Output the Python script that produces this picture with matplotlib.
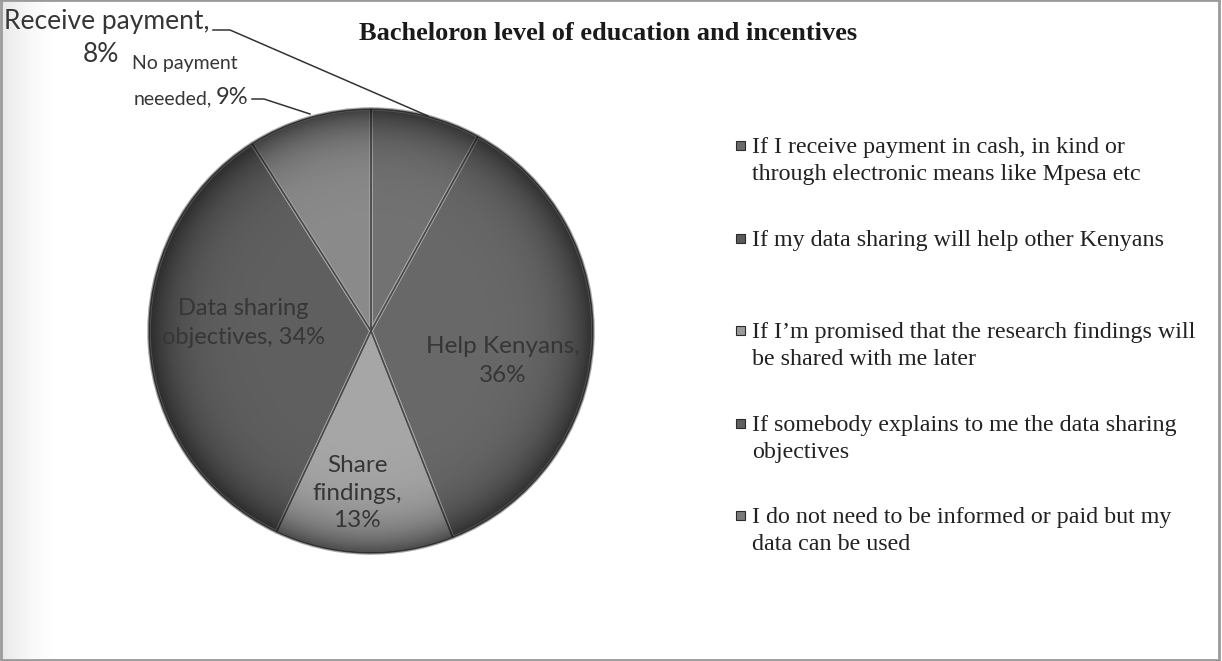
import numpy as np
import matplotlib
matplotlib.use("Agg")
import matplotlib.pyplot as plt
from matplotlib.patches import Rectangle
from matplotlib.path import Path

# ---- data ------------------------------------------------------------------
short_names = ["Receive payment", "Help Kenyans", "Share findings",
               "Data sharing objectives", "No payment neeeded"]
shares = [8, 36, 13, 34, 9]
legend_labels = [
    "If I receive payment in cash, in kind or\nthrough electronic means like Mpesa etc",
    "If my data sharing will help other Kenyans",
    "If I\u2019m promised that the research findings will\nbe shared with me later",
    "If somebody explains to me the data sharing\nobjectives",
    "I do not need to be informed or paid but my\ndata can be used",
]
slice_colors = ["#727272", "#686868", "#a6a6a6", "#5f5f5f", "#8a8a8a"]
marker_colors = ["#6a6a6a", "#5a5a5a", "#9a9a9a", "#606060", "#7a7a7a"]

W, H = 1222, 661
SANS = ["Lato", "DejaVu Sans"]
SERIF = ["Liberation Serif", "DejaVu Serif"]
INK = "#363636"

fig = plt.figure(figsize=(W / 100, H / 100), dpi=100)
ax = fig.add_axes([0, 0, 1, 1])

def py(y):  # pixel row (top-down) -> data y
    return H - y

# ---- pie -------------------------------------------------------------------
cx, cy, r = 371, py(331), 222
wedges, _ = ax.pie(shares, colors=slice_colors, startangle=90, counterclock=False,
                   center=(cx, cy), radius=r, frame=True,
                   wedgeprops=dict(edgecolor="#a9a9a9", linewidth=2.6))
ax.pie(shares, colors=["none"] * len(shares), startangle=90, counterclock=False,
       center=(cx, cy), radius=r, frame=True,
       wedgeprops=dict(edgecolor="#4a4a4a", linewidth=1.0, fill=False))
ax.set_xlim(0, W)
ax.set_ylim(0, H)
ax.set_aspect("auto")
ax.axis("off")

# faint scan haze along the left edge
haze = np.zeros((1, 256, 4))
haze[..., 3] = np.linspace(1, 0, 256) ** 2 * 0.10
ax.imshow(haze, extent=(0, 70, 0, H), aspect="auto", zorder=0)

# darker rim toward the outside of the pie
yy, xx = np.mgrid[-1:1:400j, -1:1:400j]
rim = np.zeros((400, 400, 4))
rim[..., 3] = np.clip(np.hypot(xx, yy), 0, 1) ** 8 * 0.55
shade = ax.imshow(rim, extent=(cx - r, cx + r, cy - r, cy + r), zorder=2)
shade.set_clip_path(Path.circle((cx, cy), r), transform=ax.transData)

# in-slice labels
ax.text(243, py(323), f"Data sharing\nobjectives, {shares[3]}%", ha="center",
        va="center", fontsize=17, color=INK, family=SANS, linespacing=1.5, zorder=4)
ax.text(503, py(361), f"Help Kenyans,\n{shares[1]}%", ha="center", va="center",
        fontsize=17.5, color=INK, family=SANS, linespacing=1.45, zorder=4)
ax.text(357, py(493), f"Share\nfindings,\n{shares[2]}%", ha="center", va="center",
        fontsize=17.5, color=INK, family=SANS, linespacing=1.4, zorder=4)

# outside labels with leader lines
ax.text(4, py(22), "Receive payment,", ha="left", va="center", fontsize=19,
        color=INK, family=SANS)
ax.text(101, py(55), f"{shares[0]}%", ha="center", va="center", fontsize=19,
        color=INK, family=SANS)
ax.plot([213, 230, 428], [py(30), py(30), py(116)], color="#333333", lw=1.1)

ax.text(185, py(64), "No payment", ha="center", va="center", fontsize=14,
        color=INK, family=SANS)
ax.text(212, py(99), "neeeded,", ha="right", va="center", fontsize=14,
        color=INK, family=SANS)
ax.text(216, py(98), f"{shares[4]}%", ha="left", va="center", fontsize=17,
        color=INK, family=SANS)
ax.plot([252, 264, 310], [py(99), py(99), py(114)], color="#333333", lw=1.1)

# ---- title -----------------------------------------------------------------
ax.text(608, py(34), "Bacheloron level of education and incentives", ha="center",
        va="center", fontsize=19, fontweight="bold", color="#1a1a1a", family=SERIF)

# ---- legend ----------------------------------------------------------------
legend_y = [145, 238, 330, 423, 515]
for lbl, c, y in zip(legend_labels, marker_colors, legend_y):
    ax.add_patch(Rectangle((736, py(y) - 4.5), 9, 9, facecolor=c,
                           edgecolor="#2a2a2a", lw=0.8, zorder=3))
    ax.text(752, py(y) + 8, lbl, ha="left", va="top", fontsize=17.3,
            color="#222222", family=SERIF, linespacing=1.35)

# frame
ax.add_patch(Rectangle((1, 1), W - 4, H - 1, fill=False, edgecolor="#9a9a9a", lw=2))

fig.savefig("out.png", dpi=100)
